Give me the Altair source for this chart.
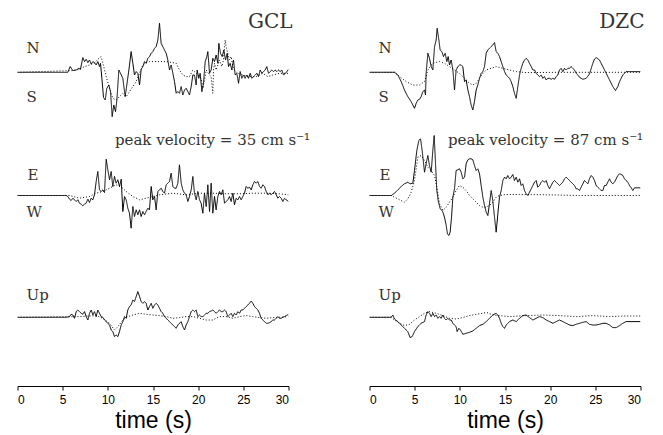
import altair as alt
import pandas as pd

# ---------------- data: (time s, relative ground velocity) ----------------
GCL_NS_SOLID = [
    (0, 0), (5.57, 0), (5.83, 5.7), (6.13, 1.7), (6.50, 2.3), (6.79, 4), (6.97, 3), (7.23, 14.7),
    (7.42, 10.7), (7.60, 13), (7.79, 9.7), (7.97, 12.3), (8.16, 8.3), (8.34, 10.7), (8.52, 9.7),
    (8.71, 7.3), (8.89, 10.7), (9.08, 5.7), (9.19, 9), (9.34, -6), (9.52, -25), (9.71, -27.7),
    (9.89, -16), (10.11, -12.7), (10.30, -19.3), (10.48, -44.3), (10.66, -32.7), (10.85, -39.3),
    (11.00, -27.7), (11.22, 2.3), (11.40, -1), (11.66, -6), (11.92, -24.3), (12.10, -12.7),
    (12.33, 2.3), (12.58, 20.7), (12.77, 9), (12.95, -2.7), (13.14, 0.7), (13.32, -1), (13.51, -12.7),
    (13.69, 3), (13.88, 5.7), (14.06, 10.7), (14.24, 9), (14.43, 14), (14.61, 15.7), (14.80, 19),
    (14.98, 20.7), (15.17, 24), (15.35, 25.7), (15.54, 32.3), (15.72, 49), (15.90, 29), (16.09, 25.7),
    (16.27, 22.3), (16.46, 19), (16.64, 12.3), (16.83, 2.3), (17.01, 7.3), (17.20, -1), (17.38, -9.3),
    (17.57, -21), (17.75, -19.3), (17.93, -21), (18.12, -14.3), (18.30, -22.7), (18.49, -17.7),
    (18.67, -16), (18.86, -19.3), (19.04, -22.7), (19.23, -14.3), (19.41, -2.7), (19.59, -2.7),
    (19.78, -12.7), (19.89, 2.3), (20.07, -6), (20.22, -1), (20.41, -19.3), (20.59, -11), (20.78, 10.7),
    (20.96, 15.7), (21.07, 20.7), (21.26, -1), (21.44, 2.3), (21.62, 14), (21.81, 10.7), (21.99, 17.3),
    (22.18, 9), (22.29, 29), (22.47, 19), (22.66, 15.7), (22.84, 22.3), (23.03, 12.3), (23.21, 19),
    (23.36, 5.7), (23.54, 9), (23.73, 2.3), (23.91, 12.3), (24.10, -2.7), (24.28, -1), (24.47, -11),
    (24.65, 0.7), (24.83, -6), (25.02, -2.7), (25.20, -6), (25.39, -2.7), (25.57, -6), (25.76, -1),
    (25.94, -6), (26.13, -4.3), (26.31, -2.7), (26.50, -1), (26.68, -4.3), (26.86, 2.3), (27.05, -1),
    (27.23, 0.7), (27.42, 2.3), (27.60, 5.7), (27.79, -1), (27.97, 0.7), (28.16, 2.3), (28.34, 0.7),
    (28.52, 2.3), (28.71, 0.7), (28.89, 2.3), (29.08, 0.7), (29.26, 2.3), (29.45, -2.7), (29.74, -0.3),
    (30, 3),
]
GCL_NS_DOTTED = [
    (0, 0), (6.13, 1.7), (6.86, 3), (7.42, 5.7), (7.97, 7.3), (8.52, 9), (8.89, 13), (9.26, 15.7),
    (9.45, 9), (9.82, -4.3), (10.19, -16), (10.55, -26), (10.92, -27.7), (11.29, -24.3), (11.66, -21),
    (12.03, -24.3), (12.40, -19.3), (12.77, -14.3), (13.14, -9.3), (13.51, -1), (13.88, 7.3),
    (14.24, 9.7), (14.61, 10.7), (15.17, 10.7), (15.72, 10.7), (16.46, 10.7), (17.20, 9.7), (17.57, 9),
    (17.93, 2.3), (18.30, -2.7), (18.67, -4.3), (19.04, -4.3), (19.41, 2.3), (19.78, -1), (20.15, -4.3),
    (20.33, -6), (20.52, -16), (20.70, -7.7), (20.89, 2.3), (21.26, -2.7), (21.44, -4.3), (21.62, -21),
    (21.70, 2.3), (21.81, 9), (21.99, 2.3), (22.36, 12.3), (22.62, 5.7), (22.80, 12.3), (22.99, 32.3),
    (23.10, 25.7), (23.28, 19), (23.47, 12.3), (23.65, 15.7), (23.84, 5.7), (24.02, 2.3), (24.39, -1),
    (24.94, -2.7), (25.68, -4.3), (26.42, -4.3), (27.16, -1), (27.71, -4.3), (28.27, -2.7), (29.00, -1),
    (30, -1),
]
GCL_EW_SOLID = [
    (0, 0), (5.39, 0), (5.57, -1), (5.76, -3.7), (5.94, -5), (6.13, -2.7), (6.31, -4.3), (6.50, -6),
    (6.68, -4.3), (6.86, -7.7), (7.05, -8.7), (7.23, -10.3), (7.42, -8.7), (7.60, -7.7), (7.79, -3.7),
    (7.97, -7), (8.16, -2.7), (8.34, -4.3), (8.52, 0.7), (8.71, 14), (8.89, 24), (9.08, 5.7), (9.26, 4),
    (9.45, 5.7), (9.63, 3), (9.82, 36.3), (10.00, 25.7), (10.19, 15.7), (10.37, 24), (10.55, 9),
    (10.74, 19), (10.92, 12.3), (11.11, 15.7), (11.29, 9), (11.48, 16.3), (11.66, -16), (11.85, -1),
    (12.03, -4.3), (12.21, -12.7), (12.40, -17.7), (12.58, -32.7), (12.77, -11), (12.95, -21),
    (13.14, -14.3), (13.32, -19.3), (13.51, -14.3), (13.69, -21), (13.88, -16), (14.06, -19.3),
    (14.24, -16), (14.43, -12.7), (14.61, -14.3), (14.80, 9), (14.98, -4.3), (15.17, -1), (15.35, -14.3),
    (15.54, 4), (15.72, 5.7), (15.90, 7.3), (16.09, 4), (16.27, 2.3), (16.46, 10.7), (16.64, 12.3),
    (16.83, 14), (17.01, 22.3), (17.20, 9), (17.38, 7.3), (17.57, 7.3), (17.75, 12.3), (17.93, 30.7),
    (18.12, 12.3), (18.30, 5.7), (18.49, 2.3), (18.67, 0.7), (18.86, -6), (19.04, -1), (19.23, 5.7),
    (19.41, 19), (19.59, 2.3), (19.78, -4.3), (19.96, 4), (20.15, -4.3), (20.33, -7.7), (20.52, -17.7),
    (20.70, 2.3), (20.89, -11), (21.07, 10.7), (21.26, -16), (21.44, 12.3), (21.62, -17.7), (21.81, -1),
    (21.99, -14.3), (22.18, -1), (22.36, 4), (22.55, 0.7), (22.73, 5.7), (22.92, -7.7), (23.10, -6),
    (23.28, -4.3), (23.47, -1), (23.65, -6), (23.84, 2.3), (24.02, -9.3), (24.21, -2.7), (24.39, -4.3),
    (24.58, -1), (24.76, -4.3), (24.94, -1), (25.13, 2.3), (25.31, 9), (25.50, 7.3), (25.68, 8.3),
    (25.87, 5.7), (26.05, 10.7), (26.24, 14), (26.42, 12.3), (26.61, 14), (26.79, 9), (26.97, 7.3),
    (27.16, 10.7), (27.34, 9), (27.53, 4), (27.71, 0.7), (27.90, 2.3), (28.08, 0.7), (28.27, 2.3),
    (28.45, 4), (28.64, 0.7), (28.82, -2.7), (29.00, -1), (29.19, -2.7), (29.37, -6), (29.56, -2.7),
    (29.74, -4.3), (30, -6),
]
GCL_EW_DOTTED = [
    (0, 0), (5.76, 0), (6.86, -2.7), (7.97, -1), (8.71, 2.3), (9.45, 4), (10.19, 7.3), (10.92, 10.7),
    (11.66, 7.3), (12.03, 4), (12.77, -1), (13.51, -4.3), (14.24, -2.7), (14.98, -1), (15.72, 0.7),
    (17.20, 2.3), (18.67, 0.7), (20.15, 2.3), (21.62, 2.3), (23.10, 1.7), (24.58, 1.7), (26.05, 2.3),
    (27.53, 2.3), (29.00, 1.7), (30, 0.7),
]
GCL_UP_SOLID = [
    (0, 0), (5.39, 0), (5.76, 0.7), (5.94, 3), (6.13, 2.3), (6.31, -1), (6.50, 5.7), (6.68, 7.3),
    (6.86, 5.7), (7.05, 4), (7.23, 3), (7.42, 5.7), (7.60, 0.7), (7.79, -2.7), (7.97, 4), (8.16, 7.3),
    (8.34, 2.3), (8.52, 5.7), (8.71, 0.7), (8.89, 7.3), (9.08, 4), (9.26, 0.7), (9.45, 0), (9.63, -2.7),
    (9.82, -4.3), (10.00, -6), (10.19, -7.7), (10.37, -12.7), (10.55, -14.3), (10.74, -19.3),
    (10.92, -17.7), (11.11, -19.3), (11.29, -14.3), (11.48, -7.7), (11.66, -4.3), (11.85, 0.7),
    (12.03, -1), (12.21, 7.3), (12.40, 10.7), (12.58, 12.3), (12.77, 17.3), (12.95, 15.7), (13.14, 20.7),
    (13.32, 25.7), (13.51, 20.7), (13.69, 15.7), (13.88, 14), (14.06, 15.7), (14.24, 14), (14.43, 7.3),
    (14.61, 10.7), (14.80, 14), (14.98, 9), (15.17, 12.3), (15.35, 14), (15.54, 12.3), (15.72, 9),
    (15.90, 5.7), (16.09, 4), (16.27, 0.7), (16.46, -1), (16.64, -2.7), (16.83, -4.3), (17.01, -6),
    (17.20, -7.7), (17.38, -9.3), (17.57, -11), (17.75, -7.7), (17.93, -6), (18.12, -4.3), (18.30, -9.3),
    (18.49, -12.7), (18.67, -7.7), (18.86, -4.3), (19.04, 0.7), (19.23, 5.7), (19.41, 7.3), (19.59, 5.7),
    (19.78, 7.3), (19.96, 0.7), (20.15, 2.3), (20.33, 0.7), (20.52, 0.7), (20.70, 2.3), (20.89, 4),
    (21.07, 4), (21.26, 5.7), (21.44, 6.3), (21.62, 7.3), (21.81, 5.7), (21.99, 4), (22.18, 5.7),
    (22.36, 7.3), (22.55, 5.7), (22.73, 5.7), (22.92, 7.3), (23.10, 5.7), (23.28, 0.7), (23.47, 2.3),
    (23.65, 4), (23.84, 0.7), (24.02, 4), (24.21, 2.3), (24.39, 5.7), (24.58, 4), (24.76, 7.3),
    (24.94, 7.3), (25.13, 9), (25.31, 10.7), (25.50, 12.3), (25.68, 14), (25.87, 16.3), (26.05, 14),
    (26.24, 10.7), (26.42, 9), (26.61, 7.3), (26.79, 4), (26.97, -1), (27.16, -2.7), (27.34, -4.3),
    (27.53, -6), (27.71, -6), (27.90, -5.3), (28.08, -4.3), (28.27, -2.7), (28.45, -2.7), (28.64, -1),
    (28.82, 0.7), (29.00, -1), (29.19, -1), (29.37, 0), (29.56, 0.7), (29.74, 1.7), (30, 3),
]
GCL_UP_DOTTED = [
    (0, 0), (6.86, 0.7), (7.97, 1.3), (8.71, 1.7), (9.45, -1), (10.19, -6), (10.74, -12.7),
    (11.11, -9.3), (11.66, -2.7), (12.21, 0.7), (12.77, 2.3), (13.51, 4), (14.24, 3), (14.98, 2.3),
    (15.72, 1.7), (16.46, 0.7), (17.20, -1), (17.93, -0.3), (18.67, 0.7), (19.41, 0.7), (20.15, -1),
    (20.89, -2.7), (21.62, -2.7), (22.36, 0.7), (23.10, 0.7), (23.84, -1), (24.58, 0.7), (25.31, 1.7),
    (26.05, 0.7), (26.79, -0.3), (27.53, -1), (28.27, -0.3), (29.00, 0), (30, 0.7),
]

DZC_NS_SOLID = [
    (0, 0), (2.77, 0), (3.14, -2.7), (3.51, -9.3), (3.87, -17.7), (4.24, -24.3), (4.61, -29.3),
    (4.98, -36), (5.17, -31), (5.35, -27.7), (5.54, -27), (5.72, -24.3), (5.90, -19.3), (6.09, -17.7),
    (6.20, -22.7), (6.27, -1), (6.46, 19), (6.64, 14), (6.83, 5.7), (7.01, 2.3), (7.20, 25.7),
    (7.38, 32.3), (7.49, 44), (7.68, 32.3), (7.82, 22.3), (8.01, 20.7), (8.19, 15.7), (8.38, 19),
    (8.56, 10.7), (8.71, 15.7), (8.86, 7.3), (9.04, 12.3), (9.23, 2.3), (9.41, -17.7), (9.59, 2.3),
    (9.78, 5.7), (9.96, 7.3), (10.15, 7.3), (10.33, 5.7), (10.52, -9.3), (10.70, -7.7), (10.89, -17.7),
    (11.07, -24.3), (11.25, -32.7), (11.44, -37.7), (11.62, -29.3), (11.81, -17.7), (11.99, -12.7),
    (12.18, -6), (12.36, -1), (12.55, 0.7), (12.73, 5.7), (12.92, 19), (13.10, 22.3), (13.28, 24),
    (13.47, 25.7), (13.65, 27.3), (13.84, 29.7), (14.02, 20.7), (14.21, 19), (14.39, 15.7),
    (14.58, 10.7), (14.76, 5.7), (14.95, 0.7), (15.13, -2.7), (15.31, -4.3), (15.50, -6), (15.68, -9.3),
    (15.87, -14.3), (16.05, -21), (16.24, -26), (16.42, -14.3), (16.61, -2.7), (16.79, 4), (16.97, 9),
    (17.16, 12.3), (17.34, 14), (17.53, 12.3), (17.71, 9), (17.90, 5.7), (18.08, 2.3), (18.27, 2.3),
    (18.45, -1), (18.63, -2.7), (18.82, -4.3), (19.00, -2.7), (19.19, -6), (19.37, -4.3), (19.56, -7.7),
    (19.74, -6), (19.93, -6), (20.11, -7), (20.30, -6), (20.48, -7), (20.66, -4.3), (20.85, -2.7),
    (21.03, 2.3), (21.22, 4), (21.40, 0.7), (21.59, 4), (21.77, 2.3), (21.96, 4), (22.14, 4),
    (22.32, 5.7), (22.51, 4), (22.69, 2.3), (22.88, -1), (23.06, -2.7), (23.25, -5), (23.62, -7),
    (23.99, -6), (24.35, -1.7), (24.72, 9), (24.91, 13.3), (25.09, 14.7), (25.46, 12.3), (25.83, 5.7),
    (26.20, -1), (26.57, -7.7), (26.94, -14.3), (27.23, -18.3), (27.49, -14.3), (27.68, -9.3),
    (28.04, -2.7), (28.41, 0.7), (28.78, 0.7), (30, 0.7),
]
DZC_NS_DOTTED = [
    (0, 0), (2.77, 0), (3.32, -4.3), (4.06, -9.3), (4.80, -12.7), (5.54, -12.7), (6.09, -9.3),
    (6.46, 2.3), (6.83, 7.3), (7.20, 9.7), (7.75, 10.7), (8.30, 9), (8.86, 5.7), (9.41, 2.3), (9.96, -1),
    (10.33, -4.3), (10.70, -7.7), (11.07, -11), (11.44, -12.7), (11.81, -11), (12.18, -6), (12.55, -1),
    (12.92, 2.3), (13.47, 4), (14.02, 5.7), (14.76, 4), (15.50, 2.3), (16.24, 0.7), (17.34, -0.3),
    (21.03, 0), (30, 0),
]
DZC_EW_SOLID = [
    (0, 0), (2.40, 0), (2.77, 2.3), (3.14, 5.7), (3.51, 9), (3.87, 11.7), (4.24, 13.3), (4.50, 11.7),
    (4.80, 12.3), (4.98, 25), (5.24, 45), (5.46, 55), (5.65, 56.7), (5.83, 45), (6.09, 23.3),
    (6.27, 31.7), (6.46, 40), (6.64, 30), (6.83, 23.3), (7.01, 45), (7.16, 60), (7.31, 31.7), (7.45, 5),
    (7.60, -5), (7.82, -13.3), (8.04, -15), (8.19, -18.3), (8.34, -23.3), (8.49, -30), (8.63, -38.3),
    (8.78, -40), (8.93, -36.7), (9.08, -21.7), (9.23, -1.7), (9.41, 6.7), (9.59, 25), (9.78, 25.7),
    (9.96, 26.7), (10.15, 23.3), (10.33, 16.7), (10.52, 18.3), (10.70, 31.7), (10.89, 35.7),
    (11.07, 36.7), (11.25, 36.7), (11.44, 35.7), (11.62, 30), (11.81, 25), (11.99, 26.7), (12.18, 21.7),
    (12.36, 10), (12.55, -1.7), (12.73, -10), (12.92, -16.7), (13.10, -20), (13.28, -8.3), (13.47, 5),
    (13.65, -5), (13.84, -21.7), (14.02, -36.7), (14.21, -18.3), (14.39, -1.7), (14.58, 5), (14.76, 15),
    (14.95, 18.3), (15.13, 16.7), (15.31, 20), (15.50, 16.7), (15.68, 18.3), (15.87, 21), (16.05, 15),
    (16.24, 18.3), (16.42, 13.3), (16.61, 16.7), (16.79, 10), (16.97, 11.7), (17.16, 5), (17.34, 1.7),
    (17.53, 0), (17.71, 3.3), (17.90, 6.7), (18.08, 10), (18.27, 13.3), (18.45, 15), (18.63, 8.3),
    (18.82, 10), (19.00, 13.3), (19.19, 15), (19.37, 13.3), (19.56, 15), (19.74, 10), (19.93, 6.7),
    (20.11, 10), (20.30, 13.3), (20.48, 15), (20.66, 13.3), (20.85, 11.7), (21.03, 10), (21.22, 11.7),
    (21.40, 13.3), (21.59, 16.7), (21.77, 18.3), (21.96, 16.7), (22.14, 15), (22.32, 13.3),
    (22.51, 11.7), (22.69, 10), (22.88, 6.7), (23.06, 6.7), (23.25, 5), (23.43, 8.3), (23.62, 11.7),
    (23.80, 15), (23.99, 13.3), (24.17, 11.7), (24.35, 16.7), (24.54, 20), (24.72, 18.3), (24.91, 15),
    (25.09, 10), (25.28, 8.3), (25.46, 6.7), (25.65, 5), (25.83, 5), (26.01, 10), (26.20, 10),
    (26.38, 13.3), (26.57, 16.7), (26.75, 13.3), (26.94, 11.7), (27.12, 13.3), (27.31, 16.7),
    (27.49, 20), (27.68, 21.7), (27.86, 21), (28.04, 20), (28.23, 16.7), (28.41, 15), (28.60, 13.3),
    (28.78, 10), (28.97, 7.7), (29.15, 5), (29.34, 7.7), (29.52, 7.7), (30, 7.7),
]
DZC_EW_DOTTED = [
    (0, 0), (2.40, 0), (2.77, -1.7), (3.32, -4.3), (3.87, -6.7), (4.24, -3.3), (4.61, 3.3), (4.98, 15),
    (5.35, 38.3), (5.72, 40), (6.09, 35), (6.46, 28.3), (6.83, 25), (7.20, 20), (7.45, 8.3),
    (7.75, -8.3), (8.12, -15), (8.49, -11.7), (8.86, -6.7), (9.23, -1.7), (9.59, 5), (9.96, 10),
    (10.33, 8.3), (10.70, 5), (11.07, 0), (11.44, -3.3), (11.81, -6.7), (12.18, -10), (12.55, -11.7),
    (12.92, -11.7), (13.28, -10), (13.65, -6.7), (14.02, -1.7), (14.39, 0), (15.13, 1), (16.61, 1),
    (19.56, 0.7), (23.25, 0), (30, 0),
]
DZC_UP_SOLID = [
    (0, 0), (2.40, 0), (2.58, 2.3), (2.77, -1.7), (3.14, -4.3), (3.51, -7.7), (3.87, -11),
    (4.24, -14.3), (4.50, -20.3), (4.72, -19.3), (4.98, -14.3), (5.35, -9.3), (5.72, -6), (6.09, -4.3),
    (6.27, 2.3), (6.46, 5.7), (6.64, 4), (6.83, 0.7), (7.01, 4), (7.20, 0.7), (7.38, 2.3), (7.56, -1),
    (7.75, 0.7), (7.93, -1), (8.12, 2.3), (8.30, -1), (8.49, -2.7), (8.67, -1), (8.86, -2.7),
    (9.04, -2.7), (9.23, -6), (9.41, -7.7), (9.59, -9.3), (9.70, -14.3), (9.89, -11), (10.07, -12.7),
    (10.33, -17), (10.70, -16), (11.07, -15), (11.44, -13.7), (11.81, -11), (12.18, -8.3), (12.55, -7),
    (12.92, -4.3), (13.28, -1), (13.65, 2.3), (14.02, 4), (14.21, 2.3), (14.39, -1), (14.58, -6),
    (14.76, -9.3), (14.95, -11), (15.13, -7.7), (15.31, -6), (15.50, -4.3), (15.87, -2.7), (16.24, -4.3),
    (16.61, -1), (16.97, 1.7), (17.34, 2.3), (17.71, -0.3), (18.08, -2.7), (18.45, -1), (18.82, 0.7),
    (19.19, -0.3), (19.56, -2.7), (19.93, -4.3), (20.30, -6), (20.66, -4.3), (21.03, -2.7),
    (21.40, -4.3), (21.77, -6), (22.14, -7.7), (22.51, -8.3), (22.88, -7), (23.25, -6), (23.62, -5),
    (23.99, -4.3), (24.35, -7), (24.72, -7.7), (25.09, -7.7), (25.46, -7), (25.83, -6), (26.20, -6),
    (26.57, -7.7), (26.94, -10.3), (27.31, -10.3), (27.68, -8.3), (28.04, -6), (28.41, -4.3),
    (30, -4.3),
]
DZC_UP_DOTTED = [
    (0, 0), (2.40, 0), (2.77, -2.7), (3.32, -6), (3.87, -8.3), (4.43, -7), (4.98, -2.7), (5.54, 0.7),
    (6.09, 4), (6.64, 5.7), (7.38, 4), (8.12, 1.7), (8.86, -1), (9.59, -1.7), (10.33, -0.3),
    (11.07, 1.7), (11.81, 3), (12.55, 4), (12.92, 5), (13.65, 2.3), (14.39, 1.7), (15.50, 0.7),
    (17.34, 1.7), (19.19, 2.3), (21.03, 1.7), (22.88, 0.7), (24.72, 1.7), (26.57, 0.7), (28.41, 1.3),
    (30, 1.3),
]

TIME_TICKS = [0, 5, 10, 15, 20, 25, 30]
PEAK_TEXT = {"GCL": "peak velocity = 35 cm s\u207b\u00b9", "DZC": "peak velocity = 87 cm s\u207b\u00b9"}

SERIES = {
    "GCL": {"NS": (GCL_NS_SOLID, GCL_NS_DOTTED), "EW": (GCL_EW_SOLID, GCL_EW_DOTTED),
            "UP": (GCL_UP_SOLID, GCL_UP_DOTTED)},
    "DZC": {"NS": (DZC_NS_SOLID, DZC_NS_DOTTED), "EW": (DZC_EW_SOLID, DZC_EW_DOTTED),
            "UP": (DZC_UP_SOLID, DZC_UP_DOTTED)},
}

# vertical trace offsets (layout), in y-scale units
OFFSET = {"NS": 313.7, "EW": 190.5, "UP": 68.7}

SERIF = "DejaVu Serif"
SANS = "Liberation Sans"
W, H = 271, 381


def station_frame(st):
    rows = []
    for comp, (solid, dotted) in SERIES[st].items():
        for style, pts in (("solid", solid), ("dotted", dotted)):
            for i, (t, v) in enumerate(pts):
                rows.append({"t": t, "y": v + OFFSET[comp], "series": f"{comp}-{style}",
                             "style": style, "i": i})
    return pd.DataFrame(rows)


def label(text, x, y, size=14, align="left", font=SERIF, color="#333"):
    return alt.Chart(alt.Data(values=[{}])).mark_text(
        text=text, align=align, baseline="middle", font=font, fontSize=size, color=color
    ).encode(x=alt.value(x), y=alt.value(y))


def panel(st, peak_x):
    df = station_frame(st)
    lines = alt.Chart(df).mark_line(strokeWidth=1, color="black", clip=True).encode(
        x=alt.X("t:Q", scale=alt.Scale(domain=[0, 30], nice=False),
                axis=alt.Axis(values=TIME_TICKS, title="time (s)", grid=False,
                              domainColor="black", tickColor="black", tickSize=4,
                              labelFont=SANS, labelFontSize=12, labelColor="black",
                              labelPadding=4, labelAngle=0,
                              titleFont=SANS, titleFontSize=23, titleFontWeight="normal",
                              titleColor="black", titlePadding=4)),
        y=alt.Y("y:Q", scale=alt.Scale(domain=[0, H]), axis=None),
        detail="series:N",
        order="i:Q",
        strokeDash=alt.StrokeDash("style:N", scale=alt.Scale(domain=["solid", "dotted"],
                                                             range=[[1, 0], [1, 2]]), legend=None),
    )
    texts = [
        label(st, 275, 17, size=20, align="right"),
        label("N", 9, 43, size=15), label("S", 9, 92, size=15),
        label("E", 10, 170, size=15), label("W", 9, 207, size=15),
        label("Up", 9, 290, size=15),
        label(PEAK_TEXT[st], peak_x, 135, size=15, align="center"),
    ]
    return alt.layer(lines, *texts).properties(width=W, height=H)


left = panel("GCL", 195)
right = panel("DZC", 176)

chart = alt.hconcat(left, right, spacing=81, bounds="flush").properties(
    padding={"left": 16.5, "top": 5, "right": 5, "bottom": 1}
).configure_view(stroke=None)

chart.save("out.html", embed_options={"renderer": "svg", "actions": False})
